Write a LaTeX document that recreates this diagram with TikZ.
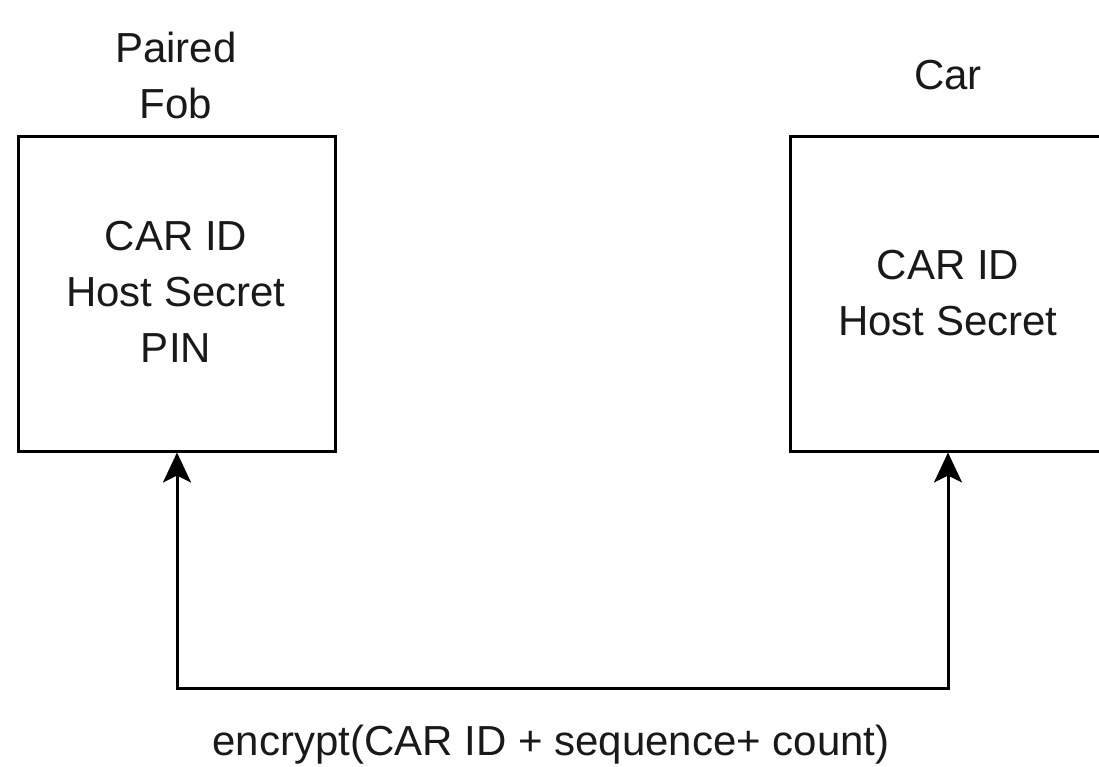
\documentclass[tikz,border=0pt]{standalone}
\usepackage{fontspec}
\setmainfont{Liberation Sans}
\usetikzlibrary{arrows.meta}
\begin{document}
\begin{tikzpicture}[x=1pt,y=-1pt,
  box/.style={draw,line width=3pt,rectangle,inner sep=0pt},
  lbl/.style={font=\fontsize{42}{56}\selectfont,align=center,text=black!90,inner sep=0pt},
  conn/.style={line width=3pt,-{Stealth[length=30pt,width=28pt,inset=7pt]}}]
\useasboundingbox (0,0) rectangle (1099,766);
\clip (0,0) rectangle (1099,766);
\node[box,minimum width=317pt,minimum height=315pt] (fob) at (176.5,293.5) {};
\node[box,minimum width=330pt,minimum height=315pt] (car) at (955,293.5) {};
\node[lbl] (fobtitle) at (176,75) {Paired\\Fob};
\node[lbl] (cartitle) at (948,75) {Car};
\node[lbl] (fobtext) at (176,292) {CAR ID\\Host Secret\\PIN};
\node[lbl] (cartext) at (948,293) {CAR ID\\Host Secret};
\coordinate (mid) at (532,688);
\coordinate (fobc) at (177,688);
\coordinate (carc) at (948,688);
\draw[conn] (mid) -- (fobc) -- (fobc |- fob.south);
\draw[conn] (mid) -- (carc) -- (carc |- car.south);
\node[lbl] (msg) at (551,745) {encrypt(CAR ID + sequence+ count)};
\end{tikzpicture}
\end{document}
